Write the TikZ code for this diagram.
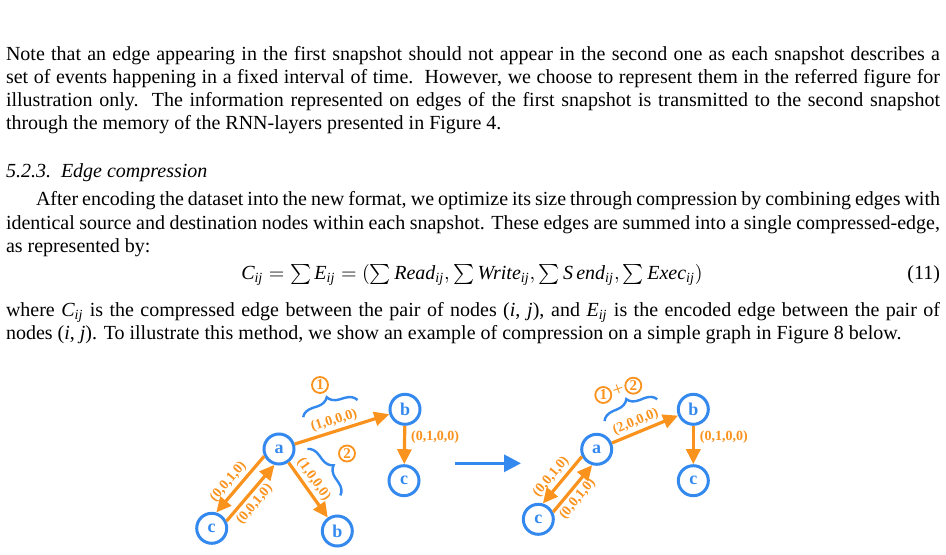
\documentclass[tikz,border=0pt]{standalone}
\usepackage{amsmath}
\usepackage{fontspec}
\setmainfont{Liberation Serif}
\usetikzlibrary{arrows.meta,decorations.pathreplacing,calc}
\definecolor{gblue}{RGB}{52,137,239}
\definecolor{gorange}{RGB}{250,146,30}
\newcommand{\ti}[1]{\text{\itshape #1}}
\begin{document}
\begin{tikzpicture}[x=0.5pt,y=-0.5pt,
  txt/.style={anchor=base west, inner sep=0, outer sep=0, font=\fontsize{10}{12}\selectfont},
  gnode/.style={circle, draw=gblue, line width=1.5pt, minimum size=15pt, inner sep=0, text=gblue, font=\fontsize{9}{10}\selectfont\bfseries},
  edge/.style={draw=gorange, line width=1.6pt, -{Triangle[length=7.5pt,width=7pt]}},
  elab/.style={text=gorange, font=\fontsize{7}{8}\selectfont\bfseries, inner xsep=1.5pt, inner ysep=1.3pt, sloped},
  elabh/.style={text=gorange, font=\fontsize{7}{8}\selectfont\bfseries, inner xsep=2.5pt, inner ysep=1.3pt},
  cnum/.style={circle, draw=gorange, line width=0.9pt, text=gorange, minimum size=8pt, inner sep=0, font=\fontsize{7.5}{8}\selectfont\bfseries},
  brc/.style={draw=gblue, line width=1.2pt, decorate, decoration={brace, amplitude=6pt}},
  flow/.style={draw=gblue, line width=1.6pt, -{Triangle[length=8.5pt,width=8.5pt]}}
]
\useasboundingbox (0,0) rectangle (946,555);

% ---------- text ----------
\node[txt] (p1) at (6,60.7) {\makebox[467pt][s]{Note that an edge appearing in the first snapshot should not appear in the second one as each snapshot describes a}};
\node[txt] (p2) at (6,83.5) {\makebox[467pt][s]{set of events happening in a fixed interval of time.\ \ However, we choose to represent them in the referred figure for}};
\node[txt] (p3) at (6,106.3) {\makebox[467pt][s]{illustration only.\ \ The information represented on edges of the first snapshot is transmitted to the second snapshot}};
\node[txt] (p4) at (6,129.1) {through the memory of the RNN-layers presented in Figure 4.};
\node[txt] (h) at (6,177.6) {\textit{5.2.3.\ \ Edge compression}};
\node[txt] (q1) at (36,206) {\makebox[452pt][s]{After encoding the dataset into the new format, we optimize its size through compression by combining edges with}};
\node[txt] (q2) at (6,229.3) {\makebox[467pt][s]{identical source and destination nodes within each snapshot. These edges are summed into a single compressed-edge,}};
\node[txt] (q3) at (6,252.7) {as represented by:};
\node[txt, anchor=base] (eq) at (472,279.3) {$\ti{C}_{\ti{ij}} = \sum \ti{E}_{\ti{ij}} = (\sum \ti{Read}_{\ti{ij}}, \sum \ti{Write}_{\ti{ij}}, \sum \ti{S\,end}_{\ti{ij}}, \sum \ti{Exec}_{\ti{ij}})$};
\node[txt, anchor=base east] (eqn) at (940,279.3) {(11)};
\node[txt] (r1) at (6,316.9) {\makebox[467pt][s]{where $\ti{C}_{\ti{ij}}$ is the compressed edge between the pair of nodes (\textit{i}, \textit{j}), and $\ti{E}_{\ti{ij}}$ is the encoded edge between the pair of}};
\node[txt] (r2) at (6,339.5) {nodes (\textit{i}, \textit{j}). To illustrate this method, we show an example of compression on a simple graph in Figure 8 below.};

% ---------- left graph ----------
\node[gnode] (a1) at (279,449) {a};
\node[gnode] (b1) at (405,409.3) {b};
\node[gnode] (c1) at (404,480.7) {c};
\node[gnode] (c2) at (211.7,528.3) {c};
\node[gnode] (b2) at (337.3,531) {b};

\draw[edge] (a1) -- node[elab, above, pos=0.45] (l1) {(1,0,0,0)} (b1);
\draw[edge] (a1) -- node[elab, above, pos=0.42] (l2) {(1,0,0,0)} (b2);
\draw[edge] (a1.206) -- node[elab, above, pos=0.58] (l3) {(0,0,1,0)} (c2.74);
\draw[edge] (c2.26) -- node[elab, below, pos=0.42] (l4) {(0,0,1,0)} (a1.254);
\draw[edge] (b1) -- node[elabh, anchor=west, pos=0.3] (l5) {(0,1,0,0)} (c1);

\draw[brc] ($(l1.north west)!-1pt!(l1.south west)$) -- ($(l1.north east)!-1pt!(l1.south east)$);
\draw[brc] ($(l2.north west)!-1pt!(l2.south west)$) -- ($(l2.north east)!-1pt!(l2.south east)$);
\node[cnum] (n1) at (320,385) {1};
\node[cnum] (n2) at (347,453.5) {2};

% ---------- arrow ----------
\coordinate (fs) at (455,463.3);
\coordinate (fe) at (521,463.3);
\draw[flow] (fs) -- (fe);

% ---------- right graph ----------
\node[gnode] (a2) at (596.7,449.3) {a};
\node[gnode] (b3) at (693.3,409.3) {b};
\node[gnode] (c3) at (693.3,480.7) {c};
\node[gnode] (c4) at (538.3,519.3) {c};

\draw[edge] (a2) -- node[elab, above, pos=0.42] (m1) {(2,0,0,0)} (b3);
\draw[edge] (a2.206) -- node[elab, above, pos=0.58] (m3) {(0,0,1,0)} (c4.74);
\draw[edge] (c4.26) -- node[elab, below, pos=0.42] (m4) {(0,0,1,0)} (a2.254);
\draw[edge] (b3) -- node[elabh, anchor=west, pos=0.3] (m5) {(0,1,0,0)} (c3);

\draw[brc] ($(m1.north west)!-1pt!(m1.south west)$) -- ($(m1.north east)!-1pt!(m1.south east)$);
\node[cnum] (k1) at (603.3,395) {1};
\node[text=gorange, inner sep=0, font=\fontsize{10}{10}\selectfont, rotate=20] (kp) at (618.3,390) {+};
\node[cnum] (k2) at (633.3,385.7) {2};
\end{tikzpicture}
\end{document}
